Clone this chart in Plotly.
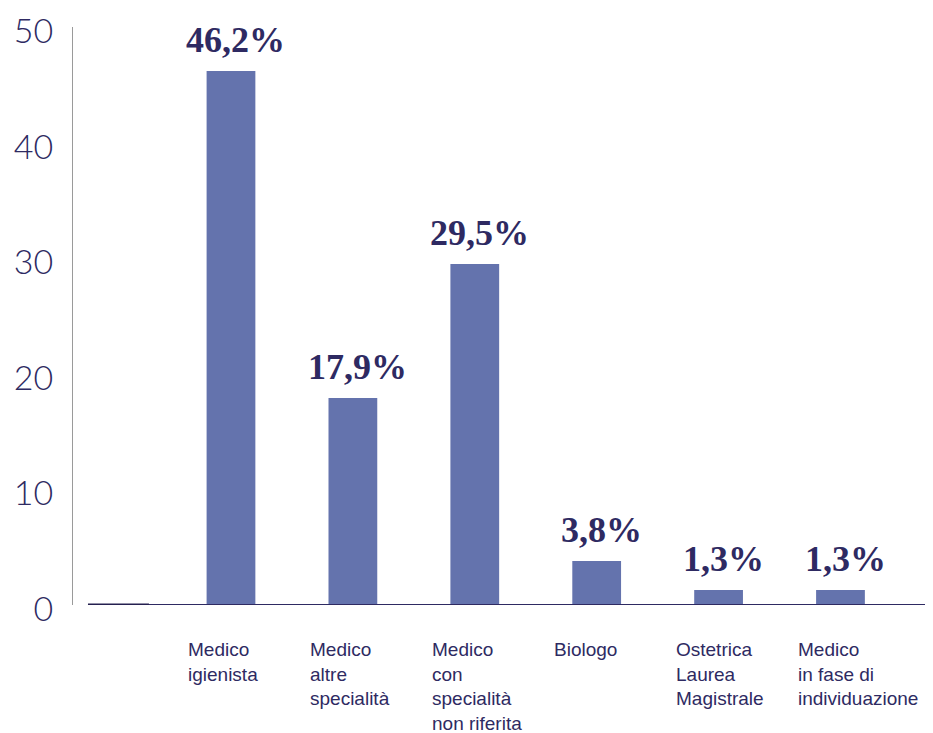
import plotly.graph_objects as go

categories = ["Medico<br>igienista", "Medico<br>altre<br>specialità", "Medico<br>con<br>specialità<br>non riferita",
              "Biologo", "Ostetrica<br>Laurea<br>Magistrale", "Medico<br>in fase di<br>individuazione"]
values = [46.2, 17.9, 29.5, 3.8, 1.3, 1.3]
value_labels = ["46,2%", "17,9%", "29,5%", "3,8%", "1,3%", "1,3%"]
y_ticks = [0, 10, 20, 30, 40, 50]

NAVY = "#2e2a62"
BAR = "#6473ad"
positions = list(range(1, len(values) + 1))

fig = go.Figure()
fig.add_trace(go.Bar(
    x=positions, y=values, width=0.40, marker=dict(color=BAR, line=dict(width=0)),
    showlegend=False, hoverinfo="skip",
))

for p, v, t in zip(positions, values, value_labels):
    fig.add_annotation(x=p, xref="x", y=v, yref="y", text=t, showarrow=False,
                       xanchor="center", yanchor="bottom", yshift=9, xshift=5,
                       font=dict(family="Liberation Serif", size=36, color=NAVY, weight="bold"))

for p, c in zip(positions, categories):
    fig.add_annotation(x=p - 0.365, xref="x", y=-0.055, yref="paper", text=c, showarrow=False,
                       xanchor="left", yanchor="top", align="left",
                       font=dict(family="Liberation Sans", size=19, color=NAVY))

fig.add_shape(type="line", xref="x", yref="y", x0=-0.173, x1=6.759, y0=0, y1=0,
              line=dict(color=NAVY, width=2), layer="above")
fig.add_shape(type="line", xref="x", yref="y", x0=-0.173, x1=0.327, y0=0, y1=0,
              line=dict(color="#252050", width=3), layer="above")

fig.update_layout(
    width=933, height=733,
    margin=dict(l=65, r=8, t=19, b=136),
    paper_bgcolor="white", plot_bgcolor="white",
    xaxis=dict(range=[-0.296, 6.759], showticklabels=False, showgrid=False, zeroline=False,
               showline=False, ticks="", automargin=False),
    yaxis=dict(range=[0, 50], tickvals=y_ticks, ticktext=[str(t) for t in y_ticks],
               showgrid=False, zeroline=False, showline=True, linecolor="#9a9a9a", linewidth=1,
               ticks="", ticklabelstandoff=12, ticklabelshift=4, automargin=False,
               tickfont=dict(family="Lato", size=34, color=NAVY, weight=300)),
)

fig.write_html("out.html")
